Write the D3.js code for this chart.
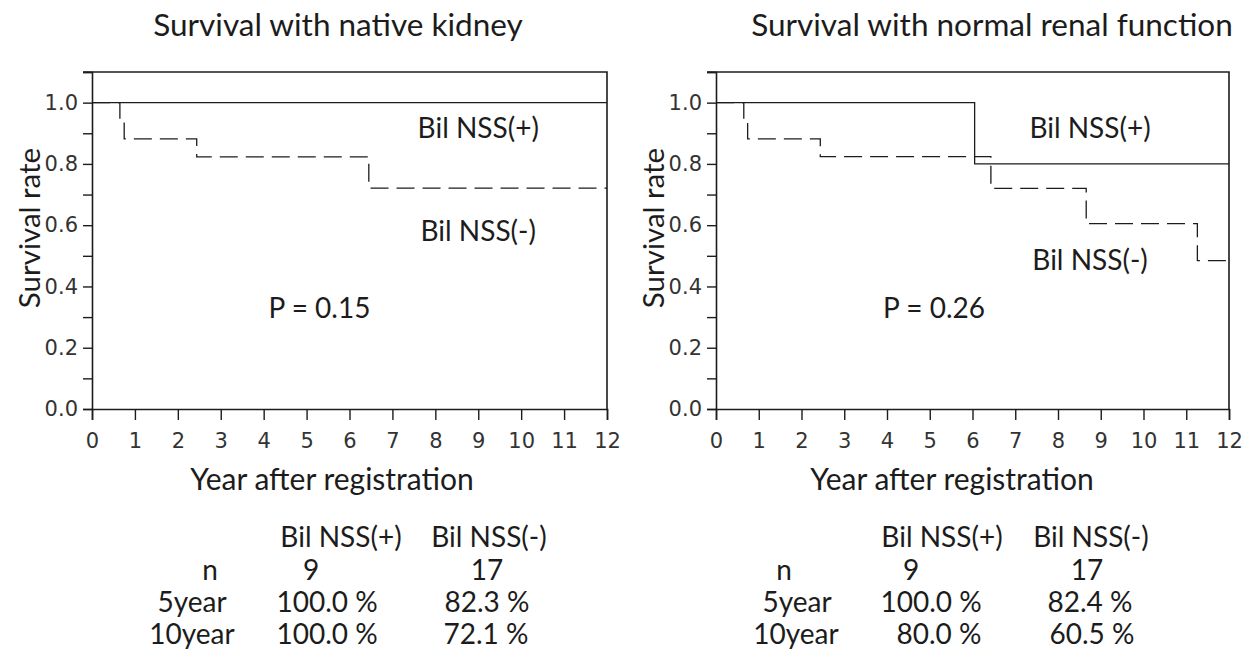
<!DOCTYPE html>
<html>
<head>
<meta charset="utf-8">
<script src="https://cdn.jsdelivr.net/npm/d3@7"></script>
<style>
  body { margin: 0; background: #fff; }
  svg { display: block; }
</style>
</head>
<body>
<div id="chart"></div>
<script>
var width = 1254;
var height = 668;

// tick values / labels
var xTickValues = [0, 1, 2, 3, 4, 5, 6, 7, 8, 9, 10, 11, 12];
var xTickLabels = ['0', '1', '2', '3', '4', '5', '6', '7', '8', '9', '10', '11', '12'];
var yTickValues = [0, 0.1, 0.2, 0.3, 0.4, 0.5, 0.6, 0.7, 0.8, 0.9, 1.0, 1.1];
var yTickLabels = ['0.0', '', '0.2', '', '0.4', '', '0.6', '', '0.8', '', '1.0', ''];

// survival with native kidney
var kidneyPosTimes = [0, 12];
var kidneyPosSurv = [1.0, 1.0];
var kidneyNegTimes = [0, 0.65, 0.75, 2.44, 6.45, 12];
var kidneyNegSurv = [1.0, 0.941, 0.882, 0.823, 0.721, 0.721];

// survival with normal renal function
var renalPosTimes = [0, 6.05, 12];
var renalPosSurv = [1.0, 0.8, 0.8];
var renalNegTimes = [0, 0.65, 0.74, 2.44, 6.43, 8.66, 11.26, 12];
var renalNegSurv = [1.0, 0.941, 0.882, 0.824, 0.72, 0.605, 0.484, 0.484];

// tables under the charts
var tableHeaders = ['Bil NSS(+)', 'Bil NSS(-)'];
var tableRowLabels = ['n', '5year', '10year'];
var kidneyTable = [['9', '17'], ['100.0 %', '82.3 %'], ['100.0 %', '72.1 %']];
var renalTable = [['9', '17'], ['100.0 %', '82.4 %'], ['80.0 %', '60.5 %']];

var textFont = 'Lato, "Open Sans", sans-serif';
var tickFont = '"DejaVu Sans", sans-serif';
var ink = '#1c1c1c';

var svg = d3.select('#chart')
	.append('svg')
	.attr('width', width)
	.attr('height', height);

svg.append('rect')
	.attr('width', width)
	.attr('height', height)
	.attr('fill', '#fff');

var panels = [
	{
		title: 'Survival with native kidney', titleX: 338,
		left: 92, right: 607, xTitleX: 332, yTitleX: 30,
		pos: {t: kidneyPosTimes, s: kidneyPosSurv},
		neg: {t: kidneyNegTimes, s: kidneyNegSurv},
		posLabel: [9.0, 0.917], negLabel: [9.0, 0.58], pLabel: [5.3, 0.33], pText: 'P = 0.15',
		table: kidneyTable, rowX: [210, 192, 192], colX: [341, 489], valX: [[311, 487], [327, 487], [327, 486]]
	},
	{
		title: 'Survival with normal renal function', titleX: 992,
		left: 716, right: 1229, xTitleX: 952, yTitleX: 654,
		pos: {t: renalPosTimes, s: renalPosSurv},
		neg: {t: renalNegTimes, s: renalNegSurv},
		posLabel: [8.75, 0.917], negLabel: [8.75, 0.485], pLabel: [5.1, 0.33], pText: 'P = 0.26',
		table: renalTable, rowX: [784, 797, 796], colX: [942, 1091], valX: [[911, 1087], [931, 1090], [939, 1092]]
	}
];

var plotTop = 72;
var plotBottom = 409;
var rowY = [537, 570, 602, 634];

var drawPanel = function(p){
	var x = d3.scaleLinear().domain([0, 12]).range([p.left, p.right]);
	var y = d3.scaleLinear().domain([0, 1.1]).range([plotBottom, plotTop]);
	var g = svg.append('g');

	// frame top and right
	g.append('path')
		.attr('d', 'M' + (p.left - 9) + ',' + plotTop + 'H' + p.right + 'V' + plotBottom)
		.attr('fill', 'none')
		.attr('stroke', ink)
		.attr('stroke-width', 1.6);

	var yAxis = g.append('g')
		.attr('transform', 'translate(' + p.left + ',0)')
		.call(d3.axisLeft(y).tickValues(yTickValues).tickSize(9).tickPadding(5)
			.tickFormat(function(d, i){ return yTickLabels[i]; }));

	var xAxis = g.append('g')
		.attr('transform', 'translate(0,' + plotBottom + ')')
		.call(d3.axisBottom(x).tickValues(xTickValues).tickSize(11).tickPadding(13)
			.tickFormat(function(d, i){ return xTickLabels[i]; }));

	[yAxis, xAxis].forEach(function(a){
		a.select('.domain').attr('stroke', ink).attr('stroke-width', 1.6);
		a.selectAll('.tick line').attr('stroke', ink).attr('stroke-width', 1.4);
		a.selectAll('.tick text')
			.attr('fill', '#333')
			.style('font-family', tickFont)
			.style('font-size', '21px');
	});

	var line = d3.line()
		.x(function(d){ return x(d[0]); })
		.y(function(d){ return y(d[1]); })
		.curve(d3.curveStepAfter);

	g.append('path')
		.datum(d3.zip(p.neg.t, p.neg.s))
		.attr('d', line)
		.attr('fill', 'none')
		.attr('stroke', ink)
		.attr('stroke-width', 1.3)
		.attr('stroke-dasharray', '18,8');

	g.append('path')
		.datum(d3.zip(p.pos.t, p.pos.s))
		.attr('d', line)
		.attr('fill', 'none')
		.attr('stroke', ink)
		.attr('stroke-width', 1.3);

	var label = function(txt, xx, yy, size){
		return g.append('text')
			.attr('x', xx)
			.attr('y', yy)
			.attr('text-anchor', 'middle')
			.attr('fill', ink)
			.style('font-family', textFont)
			.style('font-size', (size || 28) + 'px')
			.text(txt);
	};

	label('Bil NSS(+)', x(p.posLabel[0]), y(p.posLabel[1]) + 10);
	label('Bil NSS(-)', x(p.negLabel[0]), y(p.negLabel[1]) + 10);
	label(p.pText, x(p.pLabel[0]), y(p.pLabel[1]) + 10);

	label(p.title, p.titleX, 36, 31.5);
	label('Year after registration', p.xTitleX, 490, 30);
	label('Survival rate', 0, 0, 29.5)
		.attr('transform', 'translate(' + p.yTitleX + ',' + 228 + ') rotate(-90)')
		.attr('dy', '0.35em');

	// table
	tableHeaders.forEach(function(h, i){
		label(h, p.colX[i], rowY[0] + 10);
	});
	tableRowLabels.forEach(function(r, j){
		label(r, p.rowX[j], rowY[j + 1] + 10);
		p.table[j].forEach(function(v, i){
			label(v, p.valX[j][i], rowY[j + 1] + 10);
		});
	});
};

panels.forEach(drawPanel);
</script>
</body>
</html>
